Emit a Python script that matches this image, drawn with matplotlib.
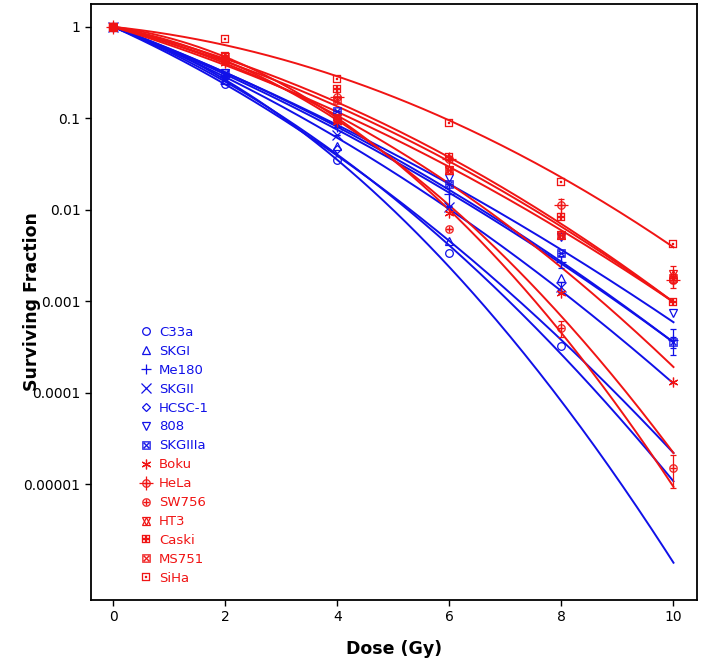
import numpy as np
import matplotlib
matplotlib.use("Agg")
from matplotlib import pyplot as plt
from matplotlib.ticker import FixedLocator, FixedFormatter, NullLocator

BLUE = '#1010e8'
RED = '#f01414'

# cell lines (legend order)
names = ['C33a', 'SKGI', 'Me180', 'SKGII', 'HCSC-1', '808', 'SKGIIIa',
         'Boku', 'HeLa', 'SW756', 'HT3', 'Caski', 'MS751', 'SiHa']
colors = [BLUE] * 7 + [RED] * 7

# linear-quadratic fit parameters, -log10(SF) = a*D + b*D^2
a_fit = [0.277, 0.251, 0.239, 0.246, 0.216, 0.232, 0.226,
         0.157, 0.162, 0.0805, 0.187, 0.1435, 0.115, 0.065]
b_fit = [0.0189, 0.0246, 0.0106, 0.0144, 0.037, 0.0091, 0.0119,
         0.0215, 0.0139, 0.04225, 0.0114, 0.01575, 0.0351, 0.0176]

# measured points
doses = {
    'C33a': [0, 2, 4, 6, 8],
    'SKGI': [0, 2, 4, 6, 8],
    'Me180': [0, 2, 4, 6, 8, 10],
    'SKGII': [0, 2, 4, 6, 8],
    'HCSC-1': [0, 2, 4],
    '808': [0, 2, 4, 6, 8, 10],
    'SKGIIIa': [0, 2, 4, 6, 8, 10],
    'Boku': [0, 2, 4, 6, 8, 10],
    'HeLa': [0, 2, 4, 6, 8, 10],
    'SW756': [0, 2, 4, 6, 8, 10],
    'HT3': [0, 2, 4, 6, 8, 10],
    'Caski': [0, 2, 4, 6, 8, 10],
    'MS751': [0, 2, 4, 6, 8, 10],
    'SiHa': [0, 2, 4, 6, 8, 10],
}
sf = {
    'C33a': [1, 0.24, 0.035, 0.0034, 0.00032],
    'SKGI': [1, 0.26, 0.05, 0.0045, 0.0018],
    'Me180': [1, 0.29, 0.08, 0.015, 0.0027, 0.00038],
    'SKGII': [1, 0.27, 0.066, 0.0107, 0.00144],
    'HCSC-1': [1, 0.28, 0.046],
    '808': [1, 0.31, 0.09, 0.022, 0.005, 0.00074],
    'SKGIIIa': [1, 0.31, 0.12, 0.019, 0.0034, 0.00036],
    'Boku': [1, 0.40, 0.09, 0.0093, 0.00123, 0.00013],
    'HeLa': [1, 0.45, 0.17, 0.036, 0.0112, 0.0017],
    'SW756': [1, 0.42, 0.10, 0.0062, 0.00051, 0.000015],
    'HT3': [1, 0.47, 0.10, 0.027, 0.0053, 0.0020],
    'Caski': [1, 0.48, 0.21, 0.038, 0.0083, 0.00098],
    'MS751': [1, 0.44, 0.16, 0.027, 0.0053, 0.0018],
    'SiHa': [1, 0.74, 0.27, 0.089, 0.020, 0.0042],
}
# error bars (same units as sf), only where visible
err = {
    'Me180': [0, 0, 0, 0.004, 0.0004, 0.00012],
    'SKGII': [0, 0, 0, 0, 0.0002],
    'HeLa': [0, 0, 0, 0, 0.002, 0.0003],
    'SW756': [0, 0, 0, 0, 0.0001, 0.000006],
    'HT3': [0, 0, 0, 0, 0, 0.0004],
    'SKGIIIa': [0, 0, 0, 0, 0, 0.00005],
}

markers = {
    'C33a': 'o', 'SKGI': '^', 'Me180': '+', 'SKGII': 'x', 'HCSC-1': 'D',
    '808': 'v', 'SKGIIIa': r'$\boxtimes$', 'Boku': (6, 2, 0),
    'HeLa': r'$\oplus$', 'SW756': r'$\oplus$', 'HT3': '^',
    'Caski': r'$\boxplus$', 'MS751': r'$\boxtimes$', 'SiHa': r'$\boxdot$',
}

fig = plt.figure(figsize=(7.03, 6.61), dpi=100)
ax = fig.add_axes([0.1294, 0.0923, 0.8621, 0.9017])

dd = np.linspace(0, 10, 200)
for i, n in enumerate(names):
    ax.plot(dd, 10 ** -(a_fit[i] * dd + b_fit[i] * dd ** 2), color=colors[i], lw=1.4)

handles = []
for i, n in enumerate(names):
    c = colors[i]
    m = markers[n]
    x = np.array(doses[n])
    y = np.array(sf[n])
    if n in err:
        ax.errorbar(x, y, yerr=err[n], fmt='none', ecolor=c, elinewidth=0.9,
                    capsize=2.5, capthick=0.9)
    ms = 5.5
    if m in ['o', '^', 'v', 'D']:
        h, = ax.plot(x, y, ls='none', marker=m, ms=ms if m != 'D' else 4.5,
                     mfc='none', mec=c, mew=0.9)
        if n == 'HT3':
            h2, = ax.plot(x, y, ls='none', marker='v', ms=ms, mfc='none', mec=c, mew=0.9)
            h = (h, h2)
    elif m in ['+', 'x']:
        h, = ax.plot(x, y, ls='none', marker=m, ms=7, color=c, mew=0.9)
    elif isinstance(m, tuple):
        h, = ax.plot(x, y, ls='none', marker=m, ms=7, color=c, mew=0.9)
    else:
        h, = ax.plot(x, y, ls='none', marker=m, ms=6, color=c, mew=0.2)
        if n == 'HeLa':
            h2, = ax.plot(x, y, ls='none', marker='+', ms=10, color=c, mew=0.9)
            h = (h, h2)
    handles.append(h)

ax.set_yscale('log')
ax.set_ylim(5.4e-7, 1.78)
ax.set_xlim(-0.4, 10.42)

yt = [1, 0.1, 0.01, 0.001, 0.0001, 0.00001]
ax.yaxis.set_major_locator(FixedLocator(yt))
ax.yaxis.set_major_formatter(FixedFormatter(['1', '0.1', '0.01', '0.001', '0.0001', '0.00001']))
ax.yaxis.set_minor_locator(NullLocator())
ax.set_xticks([0, 2, 4, 6, 8, 10])
ax.tick_params(labelsize=10, length=4, width=1, direction='out')
for s in ax.spines.values():
    s.set_linewidth(1.3)

ax.set_ylabel('Surviving Fraction', fontsize=12.5, fontweight='bold')
ax.yaxis.set_label_coords(-0.083, 0.5)
ax.set_xlabel('Dose (Gy)', fontsize=12.5, fontweight='bold', labelpad=11)

leg = ax.legend(handles, names, loc='upper left', bbox_to_anchor=(0.06, 0.48),
                frameon=False, fontsize=9.5, handlelength=1.0, handletextpad=0.5,
                labelspacing=0.45, labelcolor=colors)

fig.savefig('out.png', dpi=100)
